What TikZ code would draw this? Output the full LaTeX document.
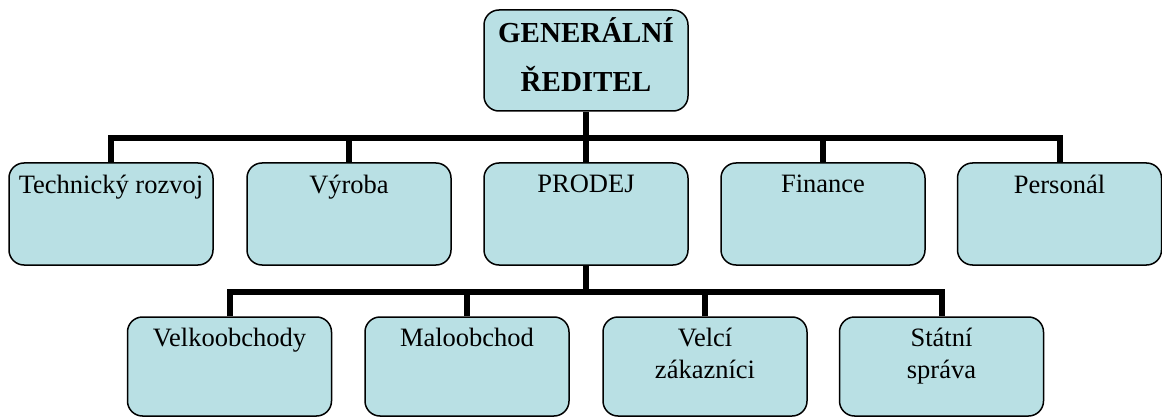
\documentclass[tikz,border=0pt]{standalone}
\usepackage{fontspec}
\setmainfont{Liberation Serif}
\definecolor{boxfill}{RGB}{185,224,228}
\tikzset{
  unit/.style={x=1pt,y=-1pt},
  orgbox/.style={draw=black, line width=1.5pt, fill=boxfill, rounded corners=15pt,
    minimum width=204pt, inner sep=0pt},
  rowbox/.style={orgbox, minimum height=102pt},
  subbox/.style={orgbox, minimum height=99pt},
  lbl/.style={anchor=north, inner sep=0pt, align=center,
    font=\fontsize{26.5}{32}\selectfont},
  conn/.style={draw=black, line width=6pt, line join=miter, line cap=butt}
}
\begin{document}
\begin{tikzpicture}[unit]
\useasboundingbox (0,0) rectangle (1162,417);

% head of the company
\node[orgbox, minimum height=101pt] (gr) at (586,60.5) {};
\node[lbl, font=\fontsize{29}{49}\selectfont\bfseries] (grt) at (586,17) {GENERÁLNÍ\\ŘEDITEL};

% departments
\node[rowbox] (tr) at (111,214) {};
\node[rowbox] (vy) at (349,214) {};
\node[rowbox] (pr) at (586,214) {};
\node[rowbox] (fi) at (823,214) {};
\node[rowbox] (pe) at (1059.5,214) {};
\node[lbl] (trt) at (111,175) {Technický rozvoj};
\node[lbl] (vyt) at (349,175) {Výroba};
\node[lbl] (prt) at (586,175) {PRODEJ};
\node[lbl] (fit) at (823,175) {Finance};
\node[lbl] (pet) at (1059.5,175) {Personál};

% sales sections
\node[subbox] (vo) at (229.5,366.5) {};
\node[subbox] (mo) at (467,366.5) {};
\node[subbox] (vz) at (705,366.5) {};
\node[subbox] (ss) at (941.5,366.5) {};
\node[lbl] (vot) at (229.5,328) {Velkoobchody};
\node[lbl] (mot) at (467,328) {Maloobchod};
\node[lbl] (vzt) at (705,328) {Velcí\\zákazníci};
\node[lbl] (sst) at (941.5,328) {Státní\\správa};

% connector buses
\coordinate (bus1) at (586,138);
\coordinate (bus2) at (586,292);

% director to departments
\draw[conn] (gr.south) -- (bus1);
\draw[conn] (tr.north) |- (bus1) -| (pe.north);
\draw[conn] (vy.north) -- (vy.north |- bus1);
\draw[conn] (pr.north) -- (pr.north |- bus1);
\draw[conn] (fi.north) -- (fi.north |- bus1);

% sales to its sections
\draw[conn] (pr.south) -- (bus2);
\draw[conn] (vo.north) |- (bus2) -| (ss.north);
\draw[conn] (mo.north) -- (mo.north |- bus2);
\draw[conn] (vz.north) -- (vz.north |- bus2);
\end{tikzpicture}
\end{document}
